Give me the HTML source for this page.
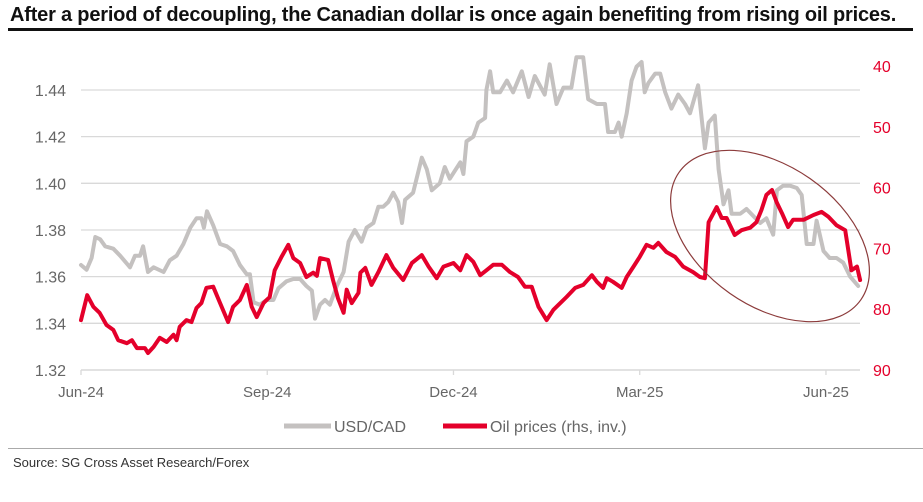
<!DOCTYPE html>
<html><head><meta charset="utf-8">
<style>
html,body{margin:0;padding:0;background:#fff;}
body{width:923px;height:502px;overflow:hidden;position:relative;font-family:"Liberation Sans",sans-serif;}
#title{position:absolute;left:10px;top:4px;font-family:"Liberation Sans Narrow","Liberation Sans",sans-serif;font-weight:bold;font-size:20px;color:#111;white-space:nowrap;letter-spacing:-0.2px;}
#rule{position:absolute;left:8px;top:28px;width:905px;height:3px;background:#111;}
#sep{position:absolute;left:8px;top:448px;width:915px;height:1px;background:#aaa;}
#source{position:absolute;left:13px;top:455px;font-family:"Liberation Sans Narrow","Liberation Sans",sans-serif;font-size:13px;color:#333;}
svg{position:absolute;left:0;top:0;}
</style></head><body>
<div id="title">After a period of decoupling, the Canadian dollar is once again benefiting from rising oil prices.</div>
<div id="rule"></div>
<svg id="chart" width="923" height="502"></svg>
<div id="sep"></div>
<div id="source">Source: SG Cross Asset Research/Forex</div>
<script>
const xTickLabels = ["Jun-24","Sep-24","Dec-24","Mar-25","Jun-25"];
const xTickMonths = [0,3,6,9,12];
const leftTicks = [1.32,1.34,1.36,1.38,1.40,1.42,1.44];
const rightTicks = [40,50,60,70,80,90];
const usdT = [0,.09,.17,.23,.31,.39,.52,.63,.79,.87,.95,1.00,1.08,1.17,1.33,1.43,1.54,1.65,1.76,1.86,1.94,1.98,2.03,2.13,2.24,2.35,2.45,2.56,2.67,2.72,2.78,2.88,2.99,3.10,3.18,3.31,3.42,3.53,3.63,3.72,3.77,3.85,3.93,4.01,4.12,4.23,4.31,4.41,4.52,4.60,4.71,4.79,4.87,4.95,5.03,5.11,5.17,5.22,5.35,5.49,5.57,5.65,5.78,5.86,5.94,
6.11,6.16,6.21,6.32,6.40,6.51,6.53,6.59,6.64,6.75,6.86,6.96,7.10,7.21,7.31,7.47,7.55,7.66,7.77,7.90,7.98,8.09,8.17,8.31,8.44,8.49,8.60,8.66,8.71,8.79,8.87,8.95,9.03,9.08,9.14,9.25,9.33,9.41,9.51,9.62,9.73,9.81,9.94,10.05,10.11,10.21,10.27,10.35,10.43,10.48,10.62,10.72,10.83,10.94,11.04,11.15,11.21,11.31,11.42,11.53,11.61,11.69,11.80,11.85,11.96,12.06,12.17,12.28,12.39,12.52];
const usdCad = [1.365,1.363,1.368,1.377,1.376,1.373,1.372,1.369,1.364,1.369,1.369,1.373,1.362,1.364,1.362,1.367,1.369,1.374,1.381,1.385,1.385,1.381,1.388,1.382,1.374,1.373,1.371,1.365,1.361,1.361,1.349,1.348,1.350,1.350,1.355,1.358,1.359,1.359,1.356,1.354,1.342,1.348,1.350,1.348,1.356,1.362,1.375,1.380,1.375,1.381,1.383,1.390,1.390,1.392,1.396,1.392,1.383,1.393,1.396,1.411,1.406,1.397,1.400,1.407,1.402,
1.409,1.404,1.418,1.420,1.426,1.428,1.440,1.448,1.439,1.439,1.444,1.439,1.448,1.437,1.446,1.438,1.451,1.434,1.441,1.441,1.454,1.454,1.436,1.434,1.434,1.422,1.422,1.426,1.420,1.430,1.444,1.450,1.452,1.439,1.443,1.447,1.447,1.439,1.432,1.438,1.434,1.430,1.442,1.415,1.426,1.429,1.406,1.391,1.397,1.387,1.387,1.389,1.386,1.383,1.385,1.378,1.397,1.399,1.399,1.398,1.395,1.374,1.374,1.384,1.371,1.368,1.368,1.366,1.360,1.356];
const oilT = [0,.10,.20,.30,.41,.52,.60,.74,.82,.90,1.03,1.08,1.17,1.27,1.38,1.49,1.54,1.59,1.70,1.78,1.86,1.94,2.02,2.13,2.24,2.37,2.45,2.56,2.67,2.75,2.83,2.94,3.04,3.12,3.23,3.34,3.42,3.53,3.63,3.74,3.80,3.85,3.98,4.06,4.14,4.23,4.28,4.36,4.47,4.50,4.58,4.68,4.79,4.92,5.03,5.19,5.33,5.49,5.60,5.73,5.84,6.00,
6.11,6.21,6.32,6.43,6.53,6.64,6.78,6.91,7.04,7.15,7.26,7.37,7.50,7.61,7.72,7.82,7.96,8.09,8.23,8.31,8.41,8.47,8.57,8.71,8.79,8.90,9.00,9.11,9.22,9.30,9.43,9.57,9.70,9.86,9.97,10.05,10.11,10.24,10.32,10.40,10.53,10.64,10.78,10.88,10.96,11.04,11.13,11.21,11.29,11.39,11.47,11.64,11.80,11.93,12.04,12.17,12.31,12.36,12.41,12.50,12.55];
const oilPrice = [81.8,77.7,79.6,80.6,82.6,83.4,85.1,85.6,85.1,86.4,86.4,87.2,86.2,84.7,85.4,84.2,85.1,82.9,81.8,82.1,79.8,79.0,76.5,76.3,79.0,82.1,79.6,78.5,76.0,79.6,81.3,79.0,78.0,73.6,71.4,69.4,71.6,72.4,74.7,74.0,74.5,71.6,71.9,75.2,78.2,80.6,76.8,79.0,77.3,74.0,73.2,76.0,73.9,71.1,73.2,75.2,72.4,71.1,73.0,74.9,73.0,72.4,
73.6,71.1,72.2,74.4,73.6,72.7,72.7,73.9,74.7,76.3,76.3,79.6,81.8,80.1,79.0,78.0,76.5,76.0,74.4,75.5,76.5,74.9,75.5,76.5,74.7,73.0,71.4,69.4,69.9,69.1,70.6,71.4,73.0,73.9,74.7,74.9,65.7,63.2,65.0,65.0,67.8,67.0,66.6,65.7,63.7,61.2,60.4,62.5,64.2,66.5,65.3,65.3,64.5,64.0,64.8,66.2,67.0,70.3,73.6,73.0,75.2];

const NS = "http://www.w3.org/2000/svg";
const svg = document.getElementById('chart');
const X0 = 81, X1 = 860, M_PER = 62.08;
const xS = m => X0 + m * M_PER;
const yL = v => 370 - (v - 1.32) / 0.02 * 46.67;
const yR = v => 66 + (v - 40) / 10 * 60.8;
function mk(tag, attrs){ const e = document.createElementNS(NS, tag); for (const k in attrs) e.setAttribute(k, attrs[k]); svg.appendChild(e); return e; }

leftTicks.forEach(v => {
  const y = yL(v);
  if (v > 1.32) {
    const g = mk('line', {x1:X0, x2:X1, y1:y, y2:y, stroke:'#d9d9d9', 'stroke-width':1.3});
    
    
  }
  const t = mk('text', {x:66, y:y+6, 'text-anchor':'end', 'font-size':16, fill:'#666', 'font-family':'Liberation Sans, sans-serif'});
  t.textContent = v.toFixed(2);
  
  
});
const ax = mk('line', {x1:X0, x2:X1, y1:370, y2:370, stroke:'#d9d9d9', 'stroke-width':1.5});


rightTicks.forEach(v => {
  const t = mk('text', {x:873, y:yR(v)+6, 'font-size':16, fill:'#e4002b', 'font-family':'Liberation Sans, sans-serif'});
  t.textContent = v;
  
  
});
xTickMonths.forEach((m, i) => {
  const x = xS(m);
  const tk = mk('line', {x1:x, x2:x, y1:370, y2:375, stroke:'#d9d9d9', 'stroke-width':1.3});
  
  
  const t = mk('text', {x:x, y:397, 'text-anchor':'middle', 'font-size':15, fill:'#666', 'font-family':'Liberation Sans, sans-serif'});
  t.textContent = xTickLabels[i];
  
  
});

function line(ts, vs, ys, color){
  const n = Math.min(ts.length, vs.length);
  let d = '';
  for (let i = 0; i < n; i++) d += (i ? 'L' : 'M') + xS(ts[i]).toFixed(1) + ',' + ys(vs[i]).toFixed(1);
  return mk('path', {d:d, fill:'none', stroke:color, 'stroke-width':4, 'stroke-linejoin':'round', 'stroke-linecap':'round'});
}
const g1 = line(usdT, usdCad, yL, '#c4c1c0');


const r1 = line(oilT, oilPrice, yR, '#e4002b');



const el = mk('ellipse', {cx:770, cy:236, rx:111, ry:70, fill:'none', stroke:'#8c3b3b', 'stroke-width':1.2, transform:'rotate(35 770 236)'});



const lg1 = mk('line', {x1:284, x2:331, y1:426, y2:426, stroke:'#c4c1c0', 'stroke-width':5});


const lt1 = mk('text', {x:334, y:432, 'font-size':16, fill:'#666', 'font-family':'Liberation Sans, sans-serif'});
lt1.textContent = 'USD/CAD';


const lg2 = mk('line', {x1:443, x2:487, y1:426, y2:426, stroke:'#e4002b', 'stroke-width':5});


const lt2 = mk('text', {x:490, y:432, 'font-size':16, fill:'#666', 'font-family':'Liberation Sans, sans-serif'});
lt2.textContent = 'Oil prices (rhs, inv.)';


</script>
</body></html>
